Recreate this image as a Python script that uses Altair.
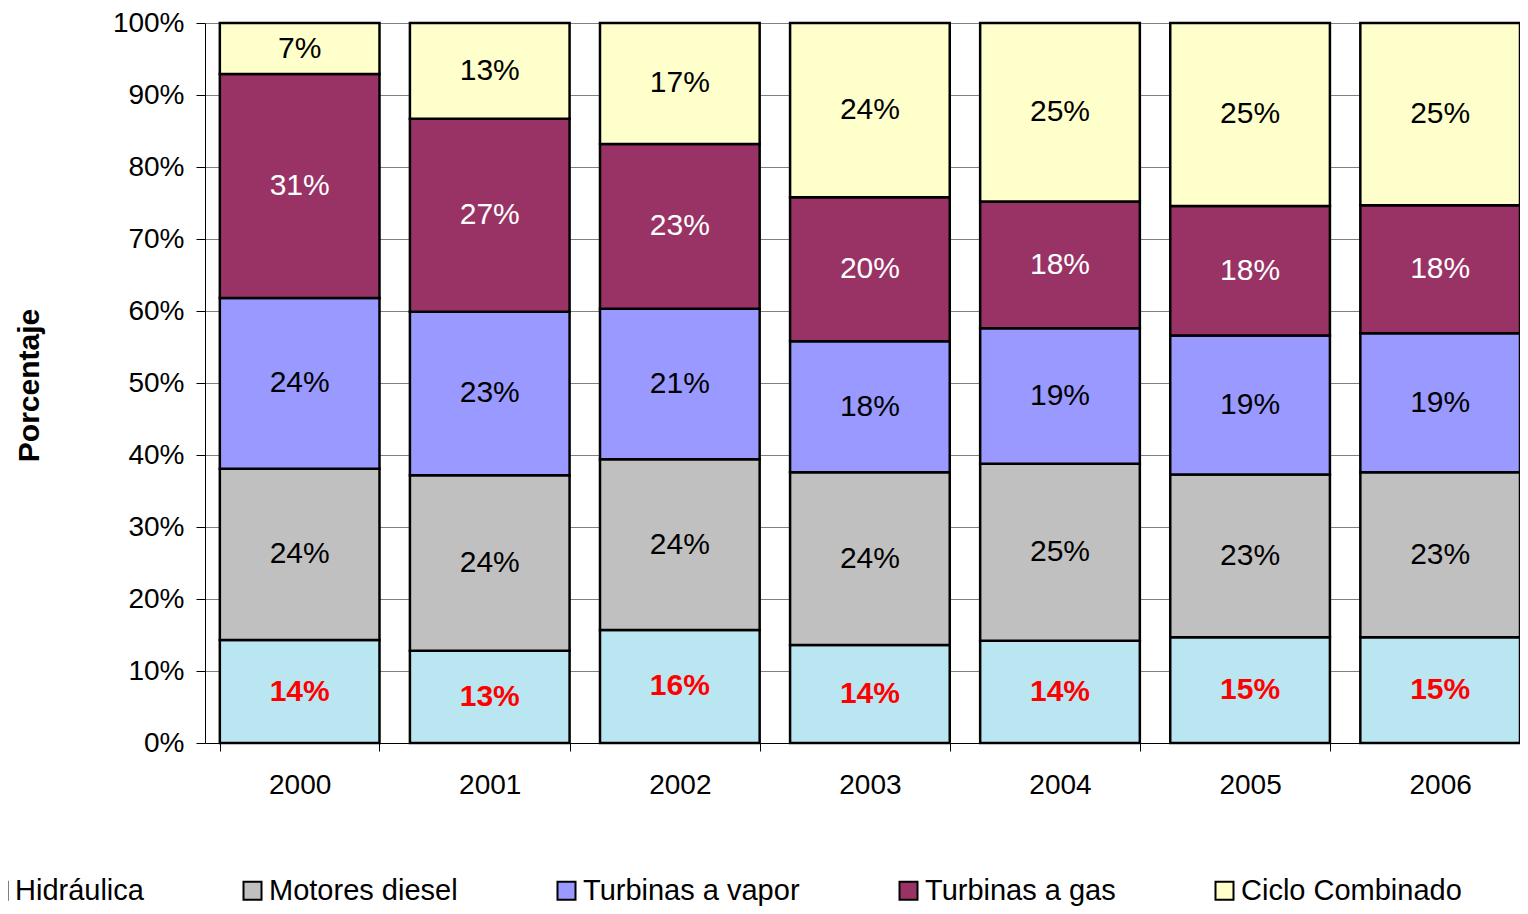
import altair as alt
import pandas as pd

years = ["2000", "2001", "2002", "2003", "2004", "2005", "2006"]
series = ["Hidráulica", "Motores diesel", "Turbinas a vapor", "Turbinas a gas", "Ciclo Combinado"]
hidraulica = [14.3, 12.8, 15.7, 13.6, 14.2, 14.7, 14.7]
motores_diesel = [23.8, 24.4, 23.7, 24.0, 24.6, 22.6, 22.9]
turbinas_vapor = [23.7, 22.7, 20.9, 18.2, 18.8, 19.3, 19.3]
turbinas_gas = [31.1, 26.8, 22.9, 20.0, 17.6, 18.0, 17.8]
ciclo_combinado = [7.1, 13.3, 16.8, 24.2, 24.8, 25.4, 25.3]
y_ticks = [0, 10, 20, 30, 40, 50, 60, 70, 80, 90, 100]

bar_colors = ["#b9e6f0", "#c0c0c0", "#9999ff", "#993366", "#ffffcc"]
label_colors = ["#ff0000", "#000000", "#000000", "#ffffff", "#000000"]

values = [hidraulica, motores_diesel, turbinas_vapor, turbinas_gas, ciclo_combinado]
rows = []
for si, (name, vals) in enumerate(zip(series, values)):
    for yr, v in zip(years, vals):
        rows.append({"year": yr, "serie": name, "order": si, "value": v,
                     "lcolor": label_colors[si]})
df = pd.DataFrame(rows)

FONT = "Liberation Sans"

base = alt.Chart(df).transform_stack(
    stack="value", groupby=["year"], as_=["y0", "y1"],
    sort=[alt.SortField("order", order="ascending")]
).transform_calculate(
    mid="(datum.y0 + datum.y1) / 2",
    label="format(datum.value, '.0f') + '%'"
)

x_enc = alt.X(
    "year:N", sort=years,
    scale=alt.Scale(paddingInner=0.16, paddingOuter=0.039, align=1),
    axis=alt.Axis(title=None, labelAngle=0, tickBand="extent", tickSize=8,
                  tickColor="black", domainColor="black", labelFontSize=28,
                  labelFont=FONT, labelColor="black", labelPadding=20, grid=False)
)

bars = base.mark_bar(stroke="black", strokeWidth=2.5).encode(
    x=x_enc,
    y=alt.Y("y0:Q", scale=alt.Scale(domain=[0, 100]),
            axis=alt.Axis(values=y_ticks, labelExpr="datum.value + '%'", title="Porcentaje",
                          titleFontSize=30, titleFont=FONT, titleFontWeight="bold",
                          titleAngle=-90, titleX=-176, titleY=362, titleAlign="center",
                          titleBaseline="middle", titleColor="black",
                          labelFontSize=28, labelFont=FONT, labelColor="black",
                          labelPadding=12, tickSize=9, tickColor="black",
                          domainColor="black", grid=True, gridColor="#808080",
                          gridWidth=1)),
    y2="y1:Q",
    color=alt.Color("serie:N", sort=series,
                    scale=alt.Scale(domain=series, range=bar_colors),
                    legend=alt.Legend(title=None, orient="none", legendX=-221, legendY=853,
                                      direction="horizontal", symbolType="square",
                                      symbolSize=324, symbolStrokeColor="black",
                                      symbolStrokeWidth=2, labelFontSize=29, labelFont=FONT,
                                      labelColor="black", labelOffset=2, labelLimit=0,
                                      columnPadding=94, padding=0)),
    order=alt.Order("order:Q")
)

labels = base.transform_filter("datum.order > 0").mark_text(
    fontSize=30, font=FONT, baseline="middle", align="center"
).encode(
    x=alt.X("year:N", sort=years),
    y=alt.Y("mid:Q"),
    text="label:N",
    color=alt.Color("lcolor:N", scale=None, legend=None)
)

hydro_labels = base.transform_filter("datum.order == 0").mark_text(
    fontSize=30, font=FONT, fontWeight="bold", baseline="middle", align="center",
    color="#ff0000"
).encode(
    x=alt.X("year:N", sort=years),
    y=alt.Y("mid:Q"),
    text="label:N"
)

chart = alt.layer(bars, labels, hydro_labels).resolve_scale(color="independent").properties(
    width=1315, height=720,
    autosize=alt.AutoSizeParams(type="none"),
    padding={"left": 197, "top": 15, "right": 0, "bottom": 163},
    background="white"
).configure_view(stroke=None)

chart.save("out.html", embed_options={"renderer": "svg", "actions": False})
